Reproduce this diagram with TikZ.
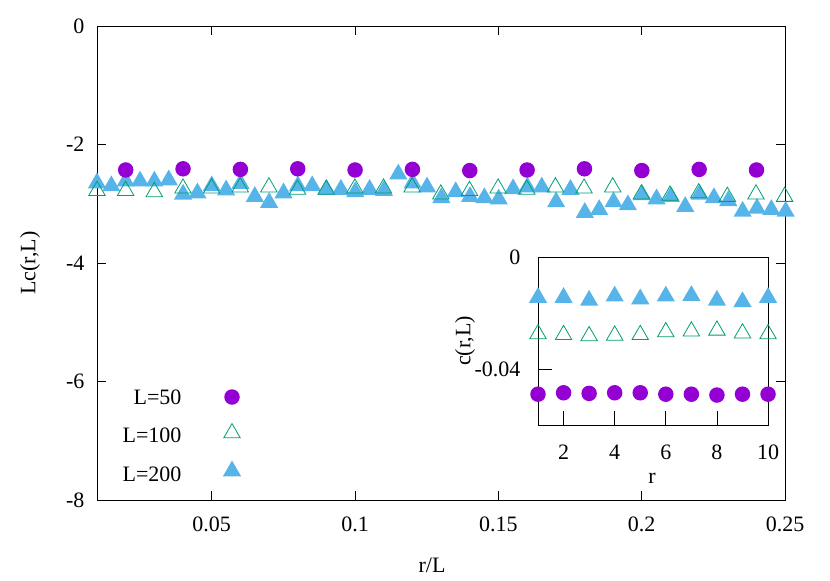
\documentclass[tikz,border=0pt]{standalone}
\usepackage{fontspec}
\setmainfont{Liberation Serif}
\usetikzlibrary{shapes.geometric}
\definecolor{cpurple}{HTML}{9400D3}
\definecolor{cgreen}{HTML}{009E73}
\definecolor{cblue}{HTML}{56B4E9}

\begin{document}
\begin{tikzpicture}[x=1pt,y=-1pt,font=\fontsize{22}{26}\selectfont,
    circ/.style={circle,fill=cpurple,minimum size=15.5pt,inner sep=0pt},
    otri/.style={regular polygon,regular polygon sides=3,draw=cgreen,line width=0.8pt,minimum size=19pt,inner sep=0pt},
    ftri/.style={regular polygon,regular polygon sides=3,fill=cblue,minimum size=21pt,inner sep=0pt},
    tick/.style={line width=0.7pt}]
    \useasboundingbox (0,0) rectangle (830,581);

    % main frame
    \draw[line width=0.9pt] (97,26) rectangle (785,500);
    \foreach \v in {0,-2,-4,-6,-8} {
        \node[anchor=east] (yl\v) at (88,{26-\v*59.25}) {\v};
    }
    \foreach \v in {-2,-4,-6} {
        \draw[tick] (97,{26-\v*59.25}) -- ++(9,0);
        \draw[tick] (785,{26-\v*59.25}) -- ++(-9,0);
    }
    \foreach \v in {0.05,0.1,0.15,0.2} {
        \draw[tick] ({97+(\v-0.01)*2866.7},500) -- ++(0,-9);
        \draw[tick] ({97+(\v-0.01)*2866.7},26) -- ++(0,9);
        \node (xl\v) at ({97+(\v-0.01)*2866.7},524) {\v};
    }
    \node (xl25) at (785,524) {0.25};
    \node (xlab) at (432,565) {r/L};
    \node[rotate=90] (ylab) at (30,263) {Lc(r,L)};

    % L=200
    \foreach \y [count=\i from 0] in {-2.65,-2.70,-2.62,-2.62,-2.62,-2.60,-2.84,-2.82,-2.70,-2.77,
        -2.66,-2.88,-2.98,-2.82,-2.70,-2.70,-2.76,-2.76,-2.80,-2.76,-2.78,-2.50,-2.65,-2.72,-2.90,
        -2.80,-2.88,-2.90,-2.92,-2.75,-2.72,-2.72,-2.97,-2.76,-3.15,-3.10,-2.97,-3.02,-2.85,-2.92,
        -2.88,-3.05,-2.84,-2.90,-2.95,-3.13,-3.08,-3.10,-3.13} {
        \node[ftri] (b\i) at ({97+\i*0.005*2866.7},{26-\y*59.25}) {};
    }
    % L=100
    \foreach \y [count=\i from 0] in {-2.78,-2.78,-2.80,-2.74,-2.74,-2.72,-2.72,-2.76,-2.76,-2.74,
        -2.74,-2.72,-2.84,-2.78,-2.74,-2.76,-2.72,-2.74,-2.72,-2.84,-2.86,-2.82,-2.88,-2.84,-2.88} {
        \node[otri] (g\i) at ({97+\i*0.01*2866.7},{26-\y*59.25}) {};
    }
    % L=50
    \foreach \y [count=\i] in {-2.43,-2.41,-2.42,-2.41,-2.43,-2.42,-2.44,-2.43,-2.41,-2.44,-2.42,-2.43} {
        \node[circ] (p\i) at ({97+(\i*0.02-0.01)*2866.7},{26-\y*59.25}) {};
    }

    % legend
    \node[anchor=east] (k50) at (185,397) {L=50};
    \node[anchor=east] (k100) at (185,435) {L=100};
    \node[anchor=east] (k200) at (185,474) {L=200};
    \node[circ] (m50) at (232,397) {};
    \node[otri] (m100) at (232,433) {};
    \node[ftri] (m200) at (232,471) {};

    % inset
    \draw[line width=0.9pt,fill=white] (538,257) rectangle (768,425);
    \node[anchor=east] (il0) at (524,257) {0};
    \node[anchor=east] (il4) at (524,369) {-0.04};
    \draw[tick] (538,369) -- ++(14,0);
    \foreach \r in {2,4,6,8} {
        \draw[tick] ({538+(\r-1)*25.56},425) -- ++(0,-14);
        \node (ix\r) at ({538+(\r-1)*25.56},452) {\r};
    }
    \node (ix10) at (768,452) {10};
    \node (ixlab) at (652,478) {r};
    \node[rotate=90] (iylab) at (465,341) {c(r,L)};
    \foreach \y [count=\r] in {-0.0145,-0.0145,-0.0155,-0.0140,-0.0150,-0.0140,-0.0138,-0.0155,-0.0160,-0.0145} {
        \node[ftri] (ib\r) at ({538+(\r-1)*25.56},{257-\y*2800}) {};
    }
    \foreach \y [count=\r] in {-0.0275,-0.0278,-0.0282,-0.0280,-0.0278,-0.0268,-0.0265,-0.0262,-0.0272,-0.0275} {
        \node[otri] (ig\r) at ({538+(\r-1)*25.56},{257-\y*2800}) {};
    }
    \foreach \y [count=\r] in {-0.0490,-0.0485,-0.0487,-0.0485,-0.0485,-0.0490,-0.0490,-0.0493,-0.0490,-0.0490} {
        \node[circ] (ip\r) at ({538+(\r-1)*25.56},{257-\y*2800}) {};
    }
\end{tikzpicture}
\end{document}
